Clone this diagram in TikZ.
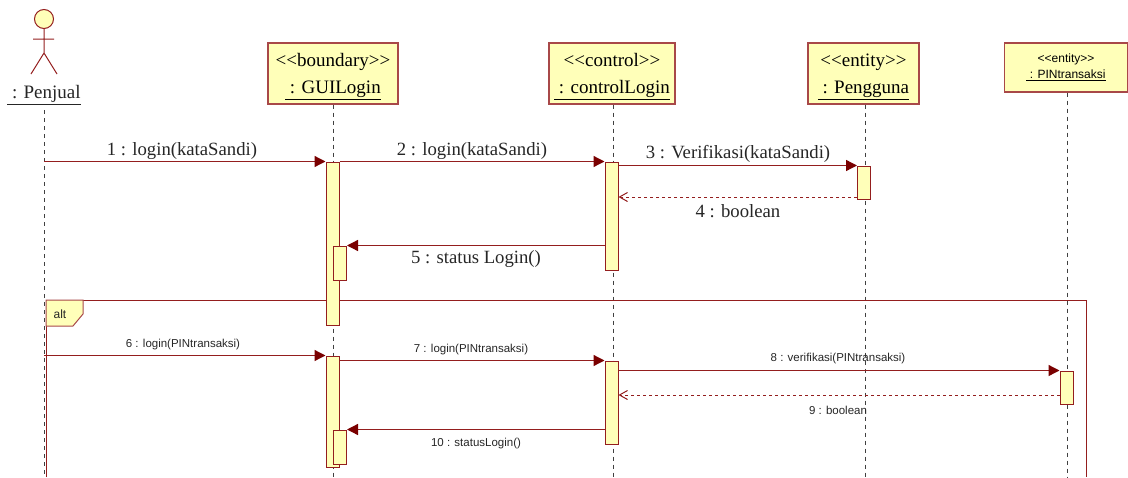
\documentclass[tikz,border=0pt]{standalone}
\usepackage{fontspec}
\setmainfont{Liberation Serif}
\setsansfont{Liberation Sans}
\usetikzlibrary{arrows.meta, positioning, shapes.geometric, calc}

\definecolor{umlline}{HTML}{941E1E}
\definecolor{umlborder}{HTML}{A84848}
\definecolor{umlfill}{HTML}{FFFFB9}
\definecolor{umltip}{HTML}{7A0000}

\newcommand{\headtext}[2]{\rule{0pt}{19pt}<{}<#1>{}>\\\underline{\ : #2}}

\tikzset{
    headbox/.style={draw=umlborder, fill=umlfill, line width=1.2pt, minimum height=61pt, inner sep=0pt, align=center, font=\fontsize{19}{27}\selectfont},
    smallhead/.style={draw=umlborder, fill=umlfill, line width=1.2pt, minimum height=49pt, inner sep=0pt, align=center, font=\sffamily\fontsize{12}{16}\selectfont},
    actbox/.style={draw=umlline, fill=umlfill, line width=1pt, minimum width=13pt, inner sep=0pt},
    lifeline/.style={dashed, black!75, line width=0.9pt, dash pattern=on 4pt off 4pt},
    msg/.style={umlline, line width=1.3pt, -{Triangle[length=11pt,width=11pt,color=umltip]}},
    backmsg/.style={umlline, line width=1pt, dash pattern=on 3pt off 3pt, -{Straight Barb[length=8pt,width=9pt]}},
    biglabel/.style={inner sep=0pt, text=black!85, font=\fontsize{18.7}{20}\selectfont},
    smalllabel/.style={inner sep=0pt, text=black!85, font=\sffamily\fontsize{11.5}{13}\selectfont},
}

\begin{document}
\begin{tikzpicture}[x=1pt, y=-1pt]
    \useasboundingbox (0,0) rectangle (1128,477);

    % actor
    \node[circle, draw=umlline, fill=umlfill, line width=1pt, minimum size=19pt, inner sep=0pt] (head) at (44,19) {};
    \coordinate (hip) at (44,53);
    \coordinate (armL) at (33,39);
    \coordinate (armR) at (54,39);
    \coordinate (legL) at (31,74);
    \coordinate (legR) at (57,74);
    \draw[umlline, line width=1pt] (head.south) -- (hip) (armL) -- (armR) (legL) -- (hip) -- (legR);
    \node[inner sep=0pt, text=black!85, font=\fontsize{19}{21}\selectfont] (penjual) at (44,95) {\underline{\ : Penjual}};

    % lifeline heads
    \node[headbox, minimum width=130pt] (gui) at (333,73.5) {\headtext{boundary}{GUILogin}};
    \node[headbox, minimum width=126pt] (control) at (612,73.5) {\headtext{control}{controlLogin}};
    \node[headbox, minimum width=111pt] (pengguna) at (863.5,73.5) {\headtext{entity}{Pengguna}};
    \node[smallhead, minimum width=123pt] (pin) at (1066,67.5) {<{}<entity>{}>\\\underline{\ : PINtransaksi}};

    % free ends of the lifelines
    \coordinate (penjualEnd) at (44,477);
    \coordinate (guiEnd) at (333,477);
    \coordinate (controlEnd) at (613,477);
    \coordinate (penggunaEnd) at (865,477);
    \coordinate (pinEnd) at (1067,477);

    \draw[lifeline] (44,110) -- (penjualEnd);
    \draw[lifeline] (guiEnd |- gui.south) -- (guiEnd);
    \draw[lifeline] (controlEnd |- control.south) -- (controlEnd);
    \draw[lifeline] (penggunaEnd |- pengguna.south) -- (penggunaEnd);
    \draw[lifeline] (pinEnd |- pin.south) -- (pinEnd);

    % alt frame
    \coordinate (frameTL) at (46,300);
    \coordinate (frameTR) at (1086,300);
    \draw[umlline, line width=1pt] (46,477) -- (frameTL) -- (frameTR) -- (1086,477);
    \draw[draw=umlborder, fill=umlfill, line width=1pt] (frameTL) -- (83,300) -- (83,314) -- (73,326) -- (46,326) -- cycle;
    \node[inner sep=0pt, text=black!85, font=\sffamily\fontsize{12}{14}\selectfont] (alt) at (60,314) {alt};

    % activations
    \node[actbox, minimum height=163pt] (guiA) at (332.5,243.5) {};
    \node[actbox, minimum height=34pt] (guiB) at (340,263) {};
    \node[actbox, minimum height=111pt] (guiC) at (332.5,411.5) {};
    \node[actbox, minimum height=34pt] (guiD) at (340,447) {};
    \node[actbox, minimum height=108pt] (controlA) at (611.5,216) {};
    \node[actbox, minimum height=83pt] (controlB) at (611.5,402.5) {};
    \node[actbox, minimum height=33pt] (penggunaA) at (864,182.5) {};
    \node[actbox, minimum height=33pt] (pinA) at (1066.5,387.5) {};

    % messages
    \draw[msg] (penjualEnd |- guiA.north) -- (guiA.north west);
    \draw[msg] (guiA.north east) -- (controlA.north west);
    \draw[msg] (controlA.east |- penggunaA.north) -- (penggunaA.north west);
    \coordinate (replyFour) at (penggunaA.west |- 0,197);
    \draw[backmsg] (replyFour) -- (controlA.east |- replyFour);
    \draw[msg] (controlA.west |- guiB.north) -- (guiB.north east);
    \draw[msg] (penjualEnd |- guiC.north) -- (guiC.north west);
    \draw[msg] (guiC.east |- controlB.north) -- (controlB.north west);
    \draw[msg] (controlB.east |- pinA.north) -- (pinA.north west);
    \coordinate (replyNine) at (pinA.west |- 0,395);
    \draw[backmsg] (replyNine) -- (controlB.east |- replyNine);
    \draw[msg] (controlB.west |- guiD.north) -- (guiD.north east);

    % message labels
    \node[biglabel] (msgOne) at (182,151) {1 : login(kataSandi)};
    \node[biglabel] (msgTwo) at (472,151) {2 : login(kataSandi)};
    \node[biglabel] (msgThree) at (738,154) {3 : Verifikasi(kataSandi)};
    \node[biglabel] (msgFour) at (738,211) {4 : boolean};
    \node[biglabel] (msgFive) at (476,259) {5 : status Login()};
    \node[smalllabel] (msgSix) at (183,345) {6 : login(PINtransaksi)};
    \node[smalllabel] (msgSeven) at (471,350) {7 : login(PINtransaksi)};
    \node[smalllabel] (msgEight) at (838,359) {8 : verifikasi(PINtransaksi)};
    \node[smalllabel] (msgNine) at (838,410) {9 : boolean};
    \node[smalllabel] (msgTen) at (476,444) {10 : statusLogin()};
\end{tikzpicture}
\end{document}
